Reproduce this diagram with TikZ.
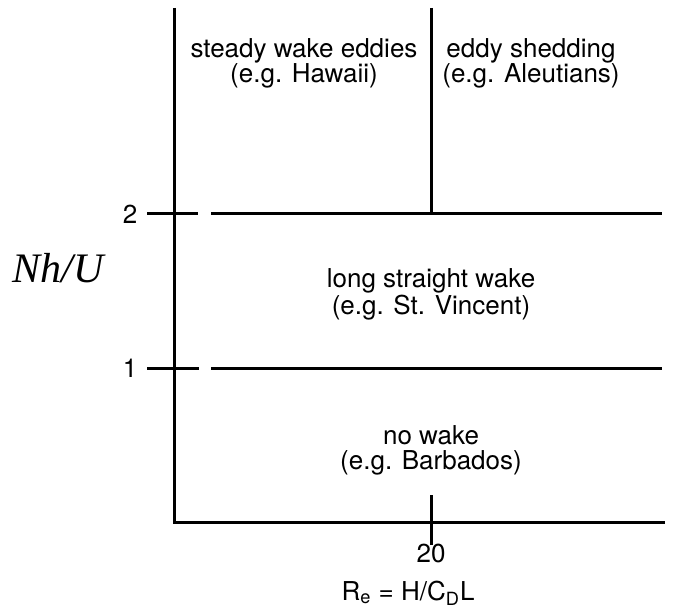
\documentclass[tikz,border=0pt]{standalone}
\usepackage{fontspec}
\setmainfont{TeX Gyre Heros}
\newfontfamily\timesfont{Liberation Serif}

\begin{document}
\begin{tikzpicture}[x=0.5pt, y=-0.5pt, line width=1.5pt,
  regime/.style={align=center, inner sep=0pt, font=\fontsize{13}{12.5}\selectfont},
  ticklabel/.style={inner sep=0pt, font=\fontsize{13}{13}\selectfont}]
  \useasboundingbox (0,0) rectangle (678,614);
  % axes
  \coordinate (O) at (174,522);
  \coordinate (T) at (174,8);
  \coordinate (X) at (665,522);
  \draw (T)--(O)--(X);
  % Nh/U = 2 and Nh/U = 1
  \coordinate (A1) at (147,214);
  \coordinate (A2) at (198,214);
  \coordinate (A3) at (211,214);
  \coordinate (A4) at (662,214);
  \coordinate (B1) at (147,368);
  \coordinate (B2) at (199,368);
  \coordinate (B3) at (211,368);
  \coordinate (B4) at (662,368);
  \draw (A1)--(A2);
  \draw (A3)--(A4);
  \draw (B1)--(B2);
  \draw (B3)--(B4);
  % R_e = 20
  \coordinate (M) at (431,214);
  \coordinate (MT) at (431,8);
  \coordinate (C1) at (431,495);
  \coordinate (C2) at (431,545);
  \draw (MT)--(M);
  \draw (C1)--(C2);
  % tick labels
  \node[ticklabel] (two) at (130,214) {2};
  \node[ticklabel] (one) at (130,368) {1};
  \node[ticklabel] (twenty) at (431,553) {20};
  \node[ticklabel] (xlabel) at (408,593) {R\textsubscript{e} = H/C\textsubscript{D}L};
  \node[inner sep=0pt, font=\timesfont\itshape\fontsize{21}{21}\selectfont] (ylabel) at (58,268) {Nh/U};
  % regimes
  \node[regime] (steady) at (304,63) {steady wake eddies\\(e.g. Hawaii)};
  \node[regime] (shed) at (531,63) {eddy shedding\\(e.g. Aleutians)};
  \node[regime] (long) at (431,294) {long straight wake\\(e.g. St. Vincent)};
  \node[regime] (none) at (431,450) {no wake\\(e.g. Barbados)};
\end{tikzpicture}
\end{document}
